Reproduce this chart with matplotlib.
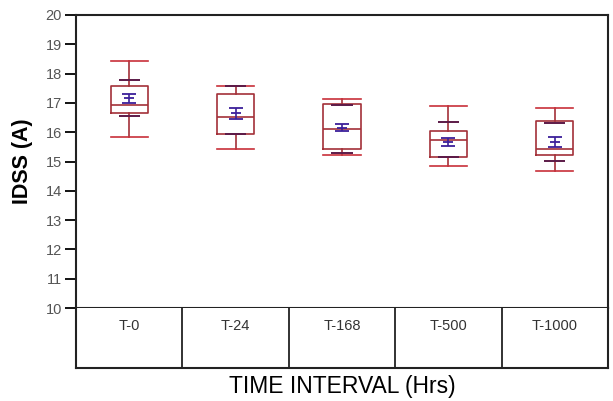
import matplotlib
matplotlib.use("Agg")
import matplotlib.pyplot as plt

plt.rcParams['font.family'] = ['Liberation Sans', 'DejaVu Sans']

# values (IDSS in A)
intervals = ["T-0", "T-24", "T-168", "T-500", "T-1000"]
whis_lo = [15.84, 15.42, 15.21, 14.84, 14.67]
q1 = [16.67, 15.93, 15.42, 15.16, 15.21]
medians = [16.93, 16.51, 16.10, 15.74, 15.41]
q3 = [17.56, 17.30, 16.97, 16.05, 16.37]
whis_hi = [18.42, 17.56, 17.15, 16.90, 16.83]
pct_lo = [16.55, 15.93, 15.30, 15.16, 15.01]
pct_hi = [17.79, 17.56, 16.94, 16.36, 16.32]
means = [17.16, 16.64, 16.15, 15.67, 15.67]
mean_lo = [16.98, 16.44, 16.05, 15.52, 15.50]
mean_hi = [17.30, 16.82, 16.29, 15.81, 15.84]

fig = plt.figure(figsize=(6.13, 4.01), dpi=100)
left, right = 76 / 613, 608 / 613
ax = fig.add_axes([left, 1 - 308 / 401, right - left, 293 / 401])
tab = fig.add_axes([left, 1 - 368 / 401, right - left, 60 / 401])

pos = list(range(len(intervals)))
stats = []
for i in pos:
    stats.append(dict(med=medians[i], q1=q1[i], q3=q3[i],
                      whislo=whis_lo[i], whishi=whis_hi[i], fliers=[]))

box_col = "#a33038"
cap_col = "#c8303a"
ax.bxp(stats, positions=pos, widths=0.35, showfliers=False,
       boxprops=dict(color=box_col, linewidth=1.2),
       medianprops=dict(color=box_col, linewidth=1.2),
       whiskerprops=dict(color=box_col, linewidth=1.2),
       capprops=dict(color=cap_col, linewidth=1.2),
       capwidths=0.35)

# inner percentile marks
ax.hlines(pct_lo, [p - 0.1 for p in pos], [p + 0.1 for p in pos],
          color="#5c1a48", linewidth=1.4, zorder=3)
ax.hlines(pct_hi, [p - 0.1 for p in pos], [p + 0.1 for p in pos],
          color="#5c1a48", linewidth=1.4, zorder=3)

# mean with error bar
err = [[m - lo for m, lo in zip(means, mean_lo)],
       [hi - m for m, hi in zip(means, mean_hi)]]
ax.errorbar(pos, means, yerr=err, fmt="none", ecolor="#3b1f9a",
            elinewidth=1.2, capsize=5, capthick=1.3, zorder=4)
ax.hlines(means, [p - 0.047 for p in pos], [p + 0.047 for p in pos],
          color="#3b1f9a", linewidth=1.3, zorder=4)

ax.set_xlim(-0.5, len(intervals) - 0.5)
ax.set_ylim(10, 20)
ax.set_yticks(range(10, 21))
ax.set_xticks([])
ax.tick_params(axis="y", direction="out", length=8, width=1.3,
               labelsize=10.5, labelcolor="#555555", pad=2)
for s in ax.spines.values():
    s.set_linewidth(1.5)
    s.set_color("#222222")
ax.set_ylabel("IDSS (A)", fontsize=15.5, fontweight="bold", labelpad=9)

# category table under the plot
tab.set_xlim(-0.5, len(intervals) - 0.5)
tab.set_ylim(0, 1)
tab.set_xticks([])
tab.set_yticks([])
for s in tab.spines.values():
    s.set_linewidth(1.5)
    s.set_color("#222222")
tab.spines["top"].set_visible(False)
for i in pos[1:]:
    tab.axvline(i - 0.5, color="#222222", linewidth=1.3)
for i, lab in enumerate(intervals):
    tab.text(i, 0.7, lab, ha="center", va="center", fontsize=10.5,
             color="#333333")
tab.set_xlabel("TIME INTERVAL (Hrs)", fontsize=16.5, labelpad=5)

fig.savefig("out.png", dpi=100)
